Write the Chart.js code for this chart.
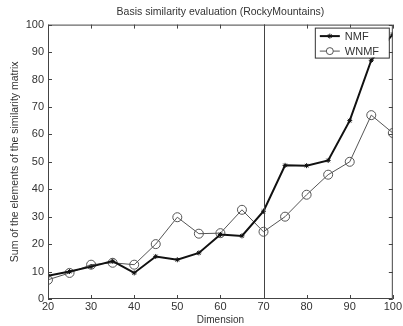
<!DOCTYPE html>
<html>
<head>
    <title>Basis similarity evaluation</title>
    <script src="https://cdn.jsdelivr.net/npm/chart.js"></script>
    <style>
        html, body { margin: 0; padding: 0; background: #fff; }
        #wrap { width: 403px; height: 326px; }
    </style>
</head>
<body>
    <div id="wrap"><canvas id="chart"></canvas></div>

    <script>
        // values
        const dimensions = [20, 25, 30, 35, 40, 45, 50, 55, 60, 65, 70, 75, 80, 85, 90, 95, 100];
        const nmfValues = [8.5, 10, 11.8, 13.8, 9.5, 15.5, 14.3, 16.8, 23.5, 23, 32, 48.7, 48.6, 50.5, 65, 87, 96.5];
        const wnmfValues = [7, 9.5, 12.5, 13.2, 12.5, 20, 29.8, 23.8, 24, 32.5, 24.5, 30, 38, 45.3, 50, 67, 60.5];
        const xTicks = [20, 30, 40, 50, 60, 70, 80, 90, 100];
        const yTicks = [0, 10, 20, 30, 40, 50, 60, 70, 80, 90, 100];
        const markerLine = 70;

        const fontFamily = '"Liberation Sans", Arial, sans-serif';
        const textColor = '#333';

        function toPoints(values) {
            return dimensions.map((d, i) => ({ x: d, y: values[i] }));
        }

        // box, inward ticks and the vertical line at dimension 70
        const frameAndTicks = {
            id: 'frameAndTicks',
            afterDatasetsDraw(chart) {
                const { ctx, chartArea: a, scales } = chart;
                ctx.save();
                ctx.strokeStyle = '#444';
                ctx.lineWidth = 1;
                ctx.strokeRect(a.left + 0.5, a.top + 0.5, a.right - a.left - 1, a.bottom - a.top - 1);
                ctx.beginPath();
                const len = 4;
                xTicks.forEach(v => {
                    const px = Math.round(scales.x.getPixelForValue(v)) + 0.5;
                    ctx.moveTo(px, a.bottom); ctx.lineTo(px, a.bottom - len);
                    ctx.moveTo(px, a.top); ctx.lineTo(px, a.top + len);
                });
                yTicks.forEach(v => {
                    const py = Math.round(scales.y.getPixelForValue(v)) + 0.5;
                    ctx.moveTo(a.left, py); ctx.lineTo(a.left + len, py);
                    ctx.moveTo(a.right, py); ctx.lineTo(a.right - len, py);
                });
                const vx = Math.round(scales.x.getPixelForValue(markerLine)) + 0.5;
                ctx.moveTo(vx, a.top); ctx.lineTo(vx, a.bottom);
                ctx.stroke();
                ctx.restore();
            }
        };

        // matlab-like legend box in the top right corner
        const boxLegend = {
            id: 'boxLegend',
            afterDraw(chart) {
                const { ctx, chartArea: a } = chart;
                const w = 74, h = 30;
                const x0 = a.right - w - 4, y0 = a.top + 3;
                ctx.save();
                ctx.fillStyle = '#fff';
                ctx.fillRect(x0, y0, w, h);
                ctx.strokeStyle = '#333';
                ctx.lineWidth = 1;
                ctx.strokeRect(x0 + 0.5, y0 + 0.5, w, h);
                ctx.font = '11px ' + fontFamily;
                ctx.textBaseline = 'middle';
                chart.data.datasets.forEach((ds, i) => {
                    const y = y0 + 8.5 + i * 15;
                    ctx.strokeStyle = ds.borderColor;
                    ctx.lineWidth = ds.borderWidth;
                    ctx.beginPath();
                    ctx.moveTo(x0 + 5, y); ctx.lineTo(x0 + 25, y);
                    ctx.stroke();
                    ctx.lineWidth = 1;
                    ctx.fillStyle = ds.pointStyle === 'circle' ? '#fff' : ds.borderColor;
                    Chart.helpers.drawPoint(ctx, {
                        pointStyle: ds.pointStyle,
                        radius: ds.pointStyle === 'circle' ? 3.5 : ds.pointRadius,
                        borderWidth: 1,
                        rotation: 0
                    }, x0 + 15, y);
                    ctx.fillStyle = textColor;
                    ctx.fillText(ds.label, x0 + 30, y + 0.5);
                });
                ctx.restore();
            }
        };

        new Chart(document.getElementById('chart'), {
            type: 'line',
            data: {
                datasets: [
                    {
                        label: 'NMF',
                        data: toPoints(nmfValues),
                        borderColor: '#111',
                        backgroundColor: '#111',
                        borderWidth: 2,
                        pointStyle: 'star',
                        pointRadius: 2.5,
                        pointBorderWidth: 1,
                        tension: 0
                    },
                    {
                        label: 'WNMF',
                        data: toPoints(wnmfValues),
                        borderColor: '#555',
                        backgroundColor: 'rgba(0,0,0,0)',
                        borderWidth: 1,
                        pointStyle: 'circle',
                        pointRadius: 4.5,
                        pointBorderWidth: 1,
                        tension: 0
                    }
                ]
            },
            options: {
                responsive: true,
                maintainAspectRatio: false,
                animation: false,
                layout: { padding: { top: 0, right: 7, bottom: 0, left: 0 } },
                plugins: {
                    legend: { display: false },
                    tooltip: { enabled: false },
                    title: {
                        display: true,
                        fullSize: false,
                        text: 'Basis similarity evaluation (RockyMountains)',
                        color: textColor,
                        font: { family: fontFamily, size: 10.5, weight: 'normal' },
                        padding: { top: 6, bottom: 6 }
                    }
                },
                scales: {
                    x: {
                        type: 'linear',
                        min: 20,
                        max: 100,
                        afterBuildTicks: s => { s.ticks = xTicks.map(v => ({ value: v })); },
                        afterFit: s => { s.height = 27; },
                        grid: { display: false, drawTicks: false, tickLength: 0 },
                        border: { display: false },
                        ticks: { color: textColor, padding: 1, maxRotation: 0, font: { family: fontFamily, size: 11 } },
                        title: { display: true, text: 'Dimension', color: textColor, padding: 0, font: { family: fontFamily, size: 10 } }
                    },
                    y: {
                        min: 0,
                        max: 100,
                        afterBuildTicks: s => { s.ticks = yTicks.map(v => ({ value: v })); },
                        afterFit: s => { s.width = 48; },
                        grid: { display: false, drawTicks: false, tickLength: 0 },
                        border: { display: false },
                        ticks: { color: textColor, padding: 4, font: { family: fontFamily, size: 11 } },
                        title: { display: true, text: 'Sum of the elements of the similarity matrix', color: textColor, padding: { top: 9, bottom: 0 }, font: { family: fontFamily, size: 10.5 } }
                    }
                }
            },
            plugins: [frameAndTicks, boxLegend]
        });
    </script>
</body>
</html>
